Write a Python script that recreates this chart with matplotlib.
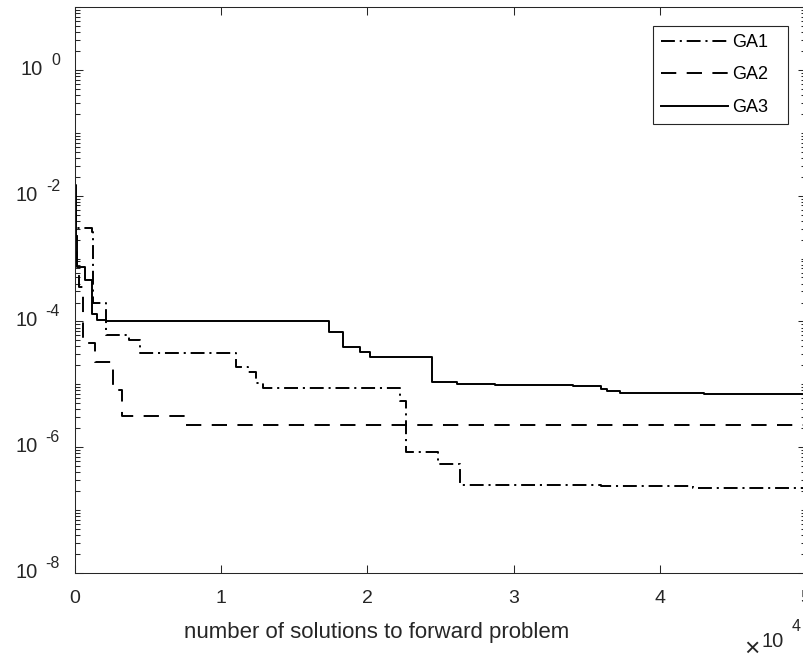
import matplotlib.pyplot as plt
from matplotlib.ticker import LogLocator, NullFormatter
from matplotlib.transforms import offset_copy

plt.rcParams['font.family'] = ['Liberation Sans', 'DejaVu Sans']
plt.rcParams['lines.scale_dashes'] = False

# mejor valor encontrado vs. numero de soluciones del problema directo (escalones)
ga1_x = [0, 30, 80, 1140, 1200, 2150, 3700, 4430, 11030, 11820, 12390, 12840,
         22220, 22630, 24850, 26310, 36000, 42300, 50000]
ga1_y = [1.4e-2, 6e-3, 3.05e-3, 2.6e-3, 1.94e-4, 6.1e-5, 5.06e-5, 3.11e-5, 1.9e-5,
         1.58e-5, 1.04e-5, 8.6e-6, 5.4e-6, 8.5e-7, 5.5e-7, 2.5e-7, 2.4e-7, 2.25e-7, 2.25e-7]

ga2_x = [0, 30, 150, 300, 560, 900, 1400, 2570, 3190, 7620, 50000]
ga2_y = [8e-3, 2.3e-3, 7e-4, 3.5e-4, 5.5e-5, 4.6e-5, 2.3e-5, 8.1e-6, 3.13e-6, 2.25e-6, 2.25e-6]

ga3_x = [0, 60, 120, 700, 1150, 1500, 2100, 17400, 18300, 19500, 20200, 24450,
         26100, 28750, 34050, 35950, 36400, 37300, 43000, 50000]
ga3_y = [1.5e-2, 2.3e-3, 7.4e-4, 4.5e-4, 1.3e-4, 1.05e-4, 1.0e-4, 6.7e-5, 3.96e-5,
         3.24e-5, 2.69e-5, 1.1e-5, 1.0e-5, 9.6e-6, 9.3e-6, 8.3e-6, 7.8e-6, 7.28e-6, 7.1e-6, 7.1e-6]

xticks = [0, 10000, 20000, 30000, 40000, 50000]
xtick_labels = ['0', '1', '2', '3', '4', '5']
yticks = [1e-8, 1e-6, 1e-4, 1e-2, 1e0]
exponentes_y = ['-8', '-6', '-4', '-2', '0']

gris = '#262626'

fig = plt.figure(figsize=(8.04, 6.61), dpi=100)
ax = fig.add_axes([75/804, 88/661, 731/804, 566/661])

ax.plot(ga1_x, ga1_y, color='k', lw=1.4, drawstyle='steps-post',
        dashes=(10, 3.5, 1.5, 3.5), label='GA1')
ax.plot(ga2_x, ga2_y, color='k', lw=1.4, drawstyle='steps-post',
        dashes=(11, 7.5), label='GA2')
ax.plot(ga3_x, ga3_y, color='k', lw=1.4, drawstyle='steps-post',
        ls='-', label='GA3')

ax.set_yscale('log')
ax.set_xlim(0, 50000)
ax.set_ylim(1e-8, 1e1)
ax.set_xticks(xticks)
ax.set_xticklabels(xtick_labels)
ax.set_yticks(yticks)
ax.yaxis.set_minor_locator(LogLocator(base=10, subs=range(1, 10), numticks=40))
ax.yaxis.set_minor_formatter(NullFormatter())

ax.tick_params(which='both', direction='in', top=True, right=True,
               color=gris, labelcolor=gris, width=0.75)
ax.tick_params(which='major', length=5.5, labelsize=14)
ax.tick_params(axis='y', labelleft=False)
ax.tick_params(axis='x', which='major', pad=12.5)
ax.tick_params(which='minor', length=3.5)
for sp in ax.spines.values():
    sp.set_color(gris)
    sp.set_linewidth(0.75)

# etiquetas 10^n al estilo matlab: exponente separado y elevado
fig.canvas.draw()
renderer = fig.canvas.get_renderer()
x_lab = -15/731
for val, e in zip(yticks, exponentes_y):
    t_exp = ax.text(x_lab, val, e, fontsize=11.5, color=gris, ha='right', va='baseline',
                    transform=offset_copy(ax.get_yaxis_transform(), fig=fig, x=0, y=5, units='dots'))
    w = t_exp.get_window_extent(renderer).width
    ax.text(x_lab, val, '10', fontsize=14.5, color=gris, ha='right', va='baseline',
            transform=offset_copy(ax.get_yaxis_transform(), fig=fig, x=-(w + 8), y=-5, units='dots'))

ax.set_xlabel('number of solutions to forward problem', fontsize=16, color=gris, va='center')
ax.xaxis.set_label_coords(0.412, -0.106)

# factor de escala del eje x
fig.text(744/804, 1 - 656/661, '×', fontsize=19, color=gris, ha='left', va='baseline')
fig.text(762/804, 1 - 647/661, '10', fontsize=14.5, color=gris, ha='left', va='baseline')
fig.text(792/804, 1 - 631/661, '4', fontsize=11.5, color=gris, ha='left', va='baseline')

leg = ax.legend(loc='upper left', bbox_to_anchor=(653/804, 1 - 130/661, 135/804, 104/661),
                bbox_transform=fig.transFigure, mode='expand', fontsize=13,
                handlelength=3.7, handletextpad=0.25, labelspacing=0.85,
                borderpad=0.45, borderaxespad=0, fancybox=False, framealpha=1)
leg.get_frame().set_edgecolor(gris)
leg.get_frame().set_linewidth(0.8)

plt.savefig('out.png', dpi=100)
